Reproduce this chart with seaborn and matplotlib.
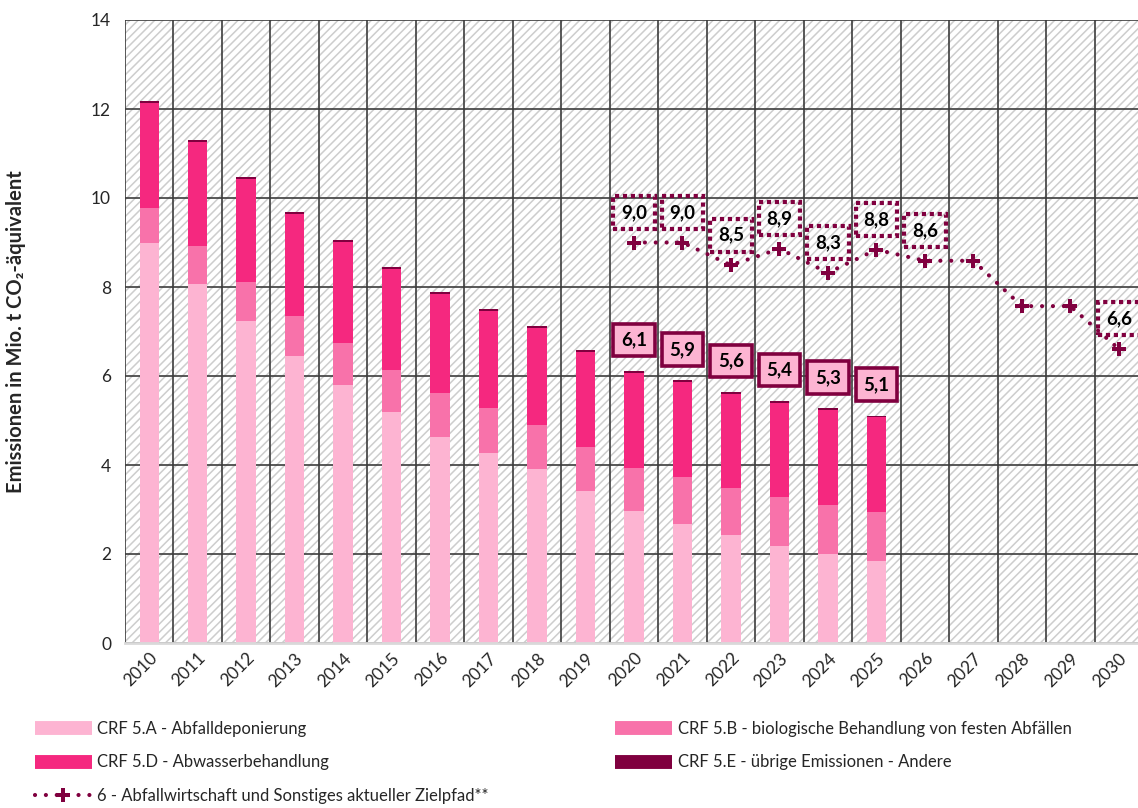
import numpy as np
import pandas as pd
import matplotlib
matplotlib.use("Agg")
import matplotlib.pyplot as plt
import seaborn as sns
from matplotlib.patches import Rectangle
from matplotlib.lines import Line2D

# ---------------- data ----------------
years = [str(y) for y in range(2010, 2031)]
hist_years = years[:16]
crf_5a = [9.00, 8.07, 7.24, 6.46, 5.80, 5.18, 4.64, 4.27, 3.92, 3.42, 2.96, 2.68, 2.42, 2.19, 1.99, 1.84]
crf_5b = [0.77, 0.85, 0.88, 0.88, 0.94, 0.95, 0.98, 1.00, 0.98, 0.98, 0.98, 1.05, 1.06, 1.08, 1.10, 1.10]
crf_5d = [2.37, 2.34, 2.31, 2.31, 2.27, 2.27, 2.22, 2.19, 2.18, 2.14, 2.13, 2.13, 2.12, 2.13, 2.14, 2.13]
crf_5e = [0.04, 0.04, 0.04, 0.04, 0.04, 0.04, 0.04, 0.04, 0.04, 0.04, 0.04, 0.04, 0.04, 0.04, 0.04, 0.04]
bar_label_years = ["2020", "2021", "2022", "2023", "2024", "2025"]

target_years = years[10:]
target_values = [9.0, 9.0, 8.49, 8.86, 8.32, 8.84, 8.59, 8.59, 7.57, 7.57, 6.61]
target_label_years = ["2020", "2021", "2022", "2023", "2024", "2025", "2026", "2030"]

legend_labels = [
    "CRF 5.A - Abfalldeponierung",
    "CRF 5.B - biologische Behandlung von festen Abfällen",
    "CRF 5.D - Abwasserbehandlung",
    "CRF 5.E - übrige Emissionen - Andere",
    "6 - Abfallwirtschaft und Sonstiges aktueller Zielpfad**",
]
ylabel = "Emissionen in Mio. t CO₂-äquivalent"

# ---------------- style ----------------
C_A = "#FDB4D2"
C_B = "#F872AA"
C_D = "#F5287F"
C_E = "#80003F"
C_T = "#80003F"

sns.set_style("white")
plt.rcParams["font.family"] = ["Lato", "DejaVu Sans"]
plt.rcParams["hatch.linewidth"] = 1.1

fig = plt.figure(figsize=(11.38, 8.08), dpi=100)
W, H = 1138, 808
ax = fig.add_axes([125 / W, (H - 643) / H, (1143 - 125) / W, 623 / H])

# hatched background
ax.add_patch(Rectangle((0, 0), 1, 1, transform=ax.transAxes, facecolor="white",
                       edgecolor="#CDCDCD", hatch="////", linewidth=0, zorder=0))

df = pd.DataFrame({"year": hist_years, "A": crf_5a, "B": crf_5b, "D": crf_5d, "E": crf_5e})
df["top_A"] = df["A"]
df["top_B"] = df["top_A"] + df["B"]
df["top_D"] = df["top_B"] + df["D"]
df["top_E"] = df["top_D"] + df["E"]

for col, colr in [("top_E", C_E), ("top_D", C_D), ("top_B", C_B), ("top_A", C_A)]:
    sns.barplot(data=df, x="year", y=col, order=years, color=colr, width=0.4,
                linewidth=0, saturation=1, errorbar=None, ax=ax, zorder=2)

# target path
tpos = [years.index(y) for y in target_years]
sns.lineplot(x=tpos, y=target_values, ax=ax, color=C_T, linewidth=3.0,
             linestyle=(0, (0.01, 2.6)), dash_capstyle="round",
             marker="P", markersize=10, markeredgewidth=0, zorder=4)

# bar total labels
for y in bar_label_years:
    i = hist_years.index(y)
    tot = df["top_E"].iloc[i]
    ax.annotate(f"{tot:.1f}".replace(".", ","), xy=(years.index(y), tot),
                xytext=(0, 31), textcoords="offset pixels", ha="center", va="center",
                fontsize=13.5, fontweight="bold", color="black", zorder=6,
                bbox=dict(boxstyle="square,pad=0.42", fc=C_A, ec=C_E, lw=2.6))

# target labels
for y in target_label_years:
    i = target_years.index(y)
    v = target_values[i]
    ax.annotate(f"{v:.1f}".replace(".", ","), xy=(years.index(y), v),
                xytext=(0, 30), textcoords="offset pixels", ha="center", va="center",
                fontsize=13.5, fontweight="bold", color="black", zorder=6,
                bbox=dict(boxstyle="square,pad=0.42", fc="none", ec=C_T, lw=3.0,
                          linestyle=(0, (1.0, 0.9))))

# axes formatting
ax.set_xlim(-0.5, len(years) - 0.5)
ax.set_ylim(0, 14)
ax.set_yticks(np.arange(0, 15, 2))
ax.set_xticks(range(len(years)))
ax.set_xticklabels(years, rotation=45, ha="right", rotation_mode="anchor", fontsize=12.5)
ax.set_xticks(np.arange(-0.5, len(years), 1), minor=True)
ax.tick_params(axis="y", length=0, pad=10, labelsize=12.5)
ax.tick_params(axis="x", which="both", length=0, pad=5)
ax.set_axisbelow(True)
ax.grid(False)
ax.yaxis.grid(True, which="major", color="#3C3C3C", linewidth=1.2, zorder=1)
ax.xaxis.grid(True, which="minor", color="#3C3C3C", linewidth=1.2, zorder=1)
ax.set_xlabel("")
ax.set_ylabel(ylabel, fontsize=14.5, fontweight="bold")
ax.yaxis.set_label_coords(-0.097, 0.5)
for s in ["top", "right", "left"]:
    ax.spines[s].set_visible(False)
ax.spines["bottom"].set_color("#D9D9D9")
ax.spines["bottom"].set_linewidth(2)

# legends
def h(c):
    return Line2D([], [], color=c, linewidth=10, solid_capstyle="butt")

tline = Line2D([], [], color=C_T, linewidth=3.0, linestyle=(0, (0.01, 2.6)),
               dash_capstyle="round", marker="P", markersize=10, markeredgewidth=0)

common = dict(frameon=False, fontsize=12, handlelength=3.4, handletextpad=0.35,
              labelspacing=1.05, borderpad=0, borderaxespad=0, numpoints=1, loc="upper left")
fig.legend([h(C_A), h(C_D), tline], [legend_labels[0], legend_labels[2], legend_labels[4]],
           bbox_to_anchor=(35 / W, 1 - 721 / H), **common)
fig.legend([h(C_B), h(C_E)], [legend_labels[1], legend_labels[3]],
           bbox_to_anchor=(615 / W, 1 - 721 / H), **common)

fig.savefig("out.png", dpi=100)
